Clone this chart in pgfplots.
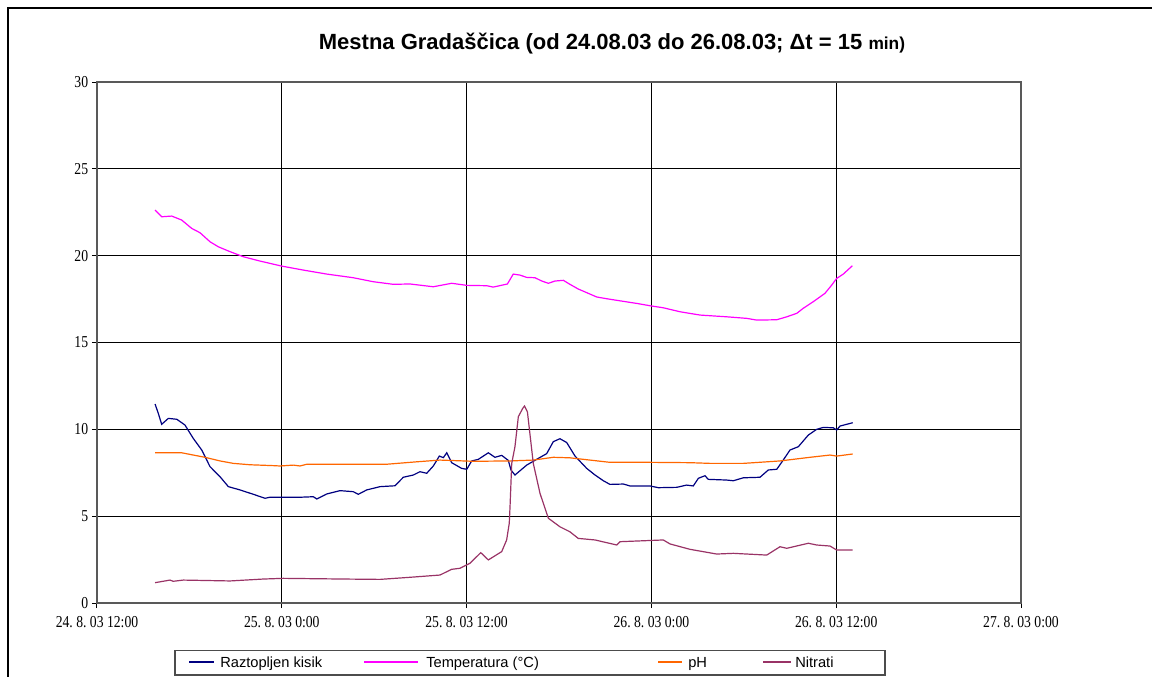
\documentclass[border=0pt]{standalone}
\usepackage{pgfplots}
\pgfplotsset{compat=1.18}
\usepackage{fontspec}
\setmainfont{Liberation Sans}
\newfontfamily\tickfont{Liberation Serif}
\definecolor{kisik}{RGB}{0,0,128}
\definecolor{temp}{RGB}{255,0,255}
\definecolor{phc}{RGB}{255,102,0}
\definecolor{nitr}{RGB}{153,51,102}
\begin{document}
\frenchspacing
\begin{tikzpicture}
\useasboundingbox (0pt,0pt) rectangle (864pt,-507.75pt);
\begin{axis}[
  scale only axis, width=693pt, height=390.75pt,
  anchor=south west, at={(72.75pt,-452.25pt)},
  xmin=0, xmax=60, ymin=0, ymax=30,
  xtick={0,12,24,36,48,60},
  xticklabels={24. 8. 03 12:00, 25. 8. 03 0:00, 25. 8. 03 12:00, 26. 8. 03 0:00, 26. 8. 03 12:00, 27. 8. 03 0:00},
  ytick={0,5,10,15,20,25,30},
  grid=major,
  major grid style={black, line width=0.75pt},
  axis line style={draw=gray!70!black, line width=1pt},
  tick pos=left, tick align=outside, major tick length=3.75pt,
  tick style={black, line width=0.75pt},
  /pgf/number format/assume math mode=true,
  ticklabel style={font=\tickfont\frenchspacing\fontsize{12.5}{14}\selectfont, xscale=0.82},
  xticklabel style={yshift=-3pt},
  every axis plot/.append style={line width=0.9pt},
]
\addplot[kisik] coordinates {
(3.77,11.46) (3.98,10.92) (4.20,10.29) (4.63,10.63) (5.18,10.58) (5.71,10.25) (6.25,9.48) (6.80,8.81) (7.34,7.85) (7.99,7.27) (8.53,6.70) (9.29,6.51) (10.15,6.26) (10.91,6.03) (11.23,6.09) (13.18,6.09) (14.05,6.12) (14.27,5.99) (14.92,6.28) (15.78,6.47) (16.64,6.41) (16.97,6.26) (17.51,6.51) (18.38,6.70) (19.35,6.75) (19.89,7.24) (20.54,7.37) (20.97,7.56) (21.41,7.47) (21.84,7.89) (22.23,8.46) (22.49,8.37) (22.71,8.65) (23.03,8.08) (23.68,7.75) (24.01,7.70) (24.33,8.18) (24.76,8.27) (25.41,8.65) (25.84,8.39) (26.28,8.50) (26.71,8.21) (26.88,7.66) (27.14,7.37) (27.90,7.94) (28.66,8.33) (29.20,8.60) (29.63,9.29) (30.06,9.46) (30.50,9.24) (31.04,8.46) (31.80,7.75) (32.34,7.37) (32.88,7.04) (33.31,6.83) (34.18,6.85) (34.61,6.74) (35.91,6.74) (36.45,6.64) (37.64,6.66) (38.29,6.79) (38.72,6.74) (39.05,7.18) (39.48,7.33) (39.69,7.12) (40.89,7.08) (41.32,7.04) (41.97,7.21) (43.05,7.24) (43.59,7.66) (44.14,7.70) (44.56,8.23) (45.00,8.81) (45.54,9.00) (46.19,9.67) (46.73,10.00) (47.16,10.11) (47.81,10.09) (48.03,9.96) (48.25,10.19) (49.07,10.38)
};
\addplot[temp] coordinates {
(3.77,22.63) (4.20,22.24) (4.85,22.28) (5.50,22.05) (6.15,21.57) (6.69,21.32) (7.34,20.80) (7.88,20.51) (8.64,20.23) (9.50,19.94) (10.58,19.69) (11.99,19.40) (13.40,19.17) (14.92,18.94) (16.64,18.73) (17.94,18.50) (19.24,18.35) (20.32,18.37) (21.84,18.21) (23.03,18.41) (24.01,18.29) (25.31,18.27) (25.73,18.19) (26.65,18.37) (27.03,18.94) (27.47,18.88) (27.90,18.75) (28.44,18.73) (28.88,18.54) (29.31,18.41) (29.74,18.54) (30.28,18.58) (30.71,18.35) (31.25,18.08) (31.80,17.87) (32.45,17.62) (33.10,17.52) (33.96,17.40) (35.05,17.25) (36.02,17.10) (36.77,17.00) (37.86,16.77) (39.16,16.58) (40.89,16.48) (42.19,16.39) (42.84,16.29) (44.14,16.31) (44.79,16.48) (45.44,16.68) (45.86,16.97) (46.51,17.35) (47.27,17.83) (47.71,18.31) (48.03,18.69) (48.46,18.94) (49.05,19.42)
};
\addplot[phc] coordinates {
(3.77,8.65) (5.50,8.65) (6.25,8.52) (7.01,8.39) (7.99,8.18) (8.85,8.04) (9.94,7.96) (11.45,7.91) (11.88,7.89) (12.75,7.94) (13.18,7.89) (13.62,7.99) (18.81,7.99) (20.76,8.13) (22.27,8.23) (24.44,8.16) (26.82,8.18) (28.33,8.23) (29.63,8.39) (30.71,8.36) (32.01,8.23) (33.31,8.10) (35.91,8.10) (38.51,8.08) (39.81,8.04) (41.97,8.04) (44.35,8.18) (46.30,8.39) (47.60,8.52) (48.03,8.46) (49.07,8.58)
};
\addplot[nitr] coordinates {
(3.77,1.17) (4.74,1.32) (4.95,1.25) (5.60,1.32) (8.64,1.27) (10.80,1.38) (12.10,1.42) (15.99,1.38) (18.38,1.36) (20.32,1.48) (22.27,1.61) (23.03,1.94) (23.57,2.00) (24.22,2.29) (24.92,2.90) (25.41,2.48) (26.28,2.96) (26.60,3.63) (26.77,4.59) (26.82,5.54) (26.93,8.04) (27.14,9.00) (27.36,10.73) (27.64,11.20) (27.76,11.34) (27.95,11.00) (28.33,8.04) (28.77,6.30) (29.31,4.88) (30.06,4.39) (30.71,4.10) (31.25,3.72) (32.34,3.63) (33.75,3.34) (33.96,3.53) (36.77,3.63) (37.21,3.40) (38.51,3.09) (40.24,2.82) (41.32,2.86) (43.49,2.76) (44.35,3.24) (44.79,3.15) (46.19,3.44) (46.73,3.34) (47.60,3.28) (48.03,3.05) (49.07,3.05)
};
\end{axis}
% outer chart frame
\draw[line width=2pt] (6pt,-510pt) -- (6pt,-6pt) -- (866pt,-6pt);
% title
\node at (459pt,-33pt) {\bfseries\fontsize{16.5}{19}\selectfont Mestna Gradaščica (od 24.08.03 do 26.08.03; Δt = 15 {\fontsize{13}{15}\selectfont min)}};
% legend
\draw[draw=gray!60!black, line width=1pt] (131.25pt,-488pt) rectangle (663.75pt,-506.25pt);
\begin{scope}[line width=0.9pt]
\draw[kisik] (141.75pt,-496.5pt) -- (160.5pt,-496.5pt);
\draw[temp] (273pt,-496.5pt) -- (313.5pt,-496.5pt);
\draw[phc] (493.5pt,-496.5pt) -- (511.5pt,-496.5pt);
\draw[nitr] (572.25pt,-496.5pt) -- (593.25pt,-496.5pt);
\end{scope}
\begin{scope}[every node/.style={anchor=base west, inner sep=0pt, font=\fontsize{11}{13}\selectfont}]
\node at (165pt,-500.5pt) {Raztopljen kisik};
\node at (319.5pt,-500.5pt) {Temperatura (°C)};
\node at (516pt,-500.5pt) {pH};
\node at (596.25pt,-500.5pt) {Nitrati};
\end{scope}
\end{tikzpicture}
\end{document}
